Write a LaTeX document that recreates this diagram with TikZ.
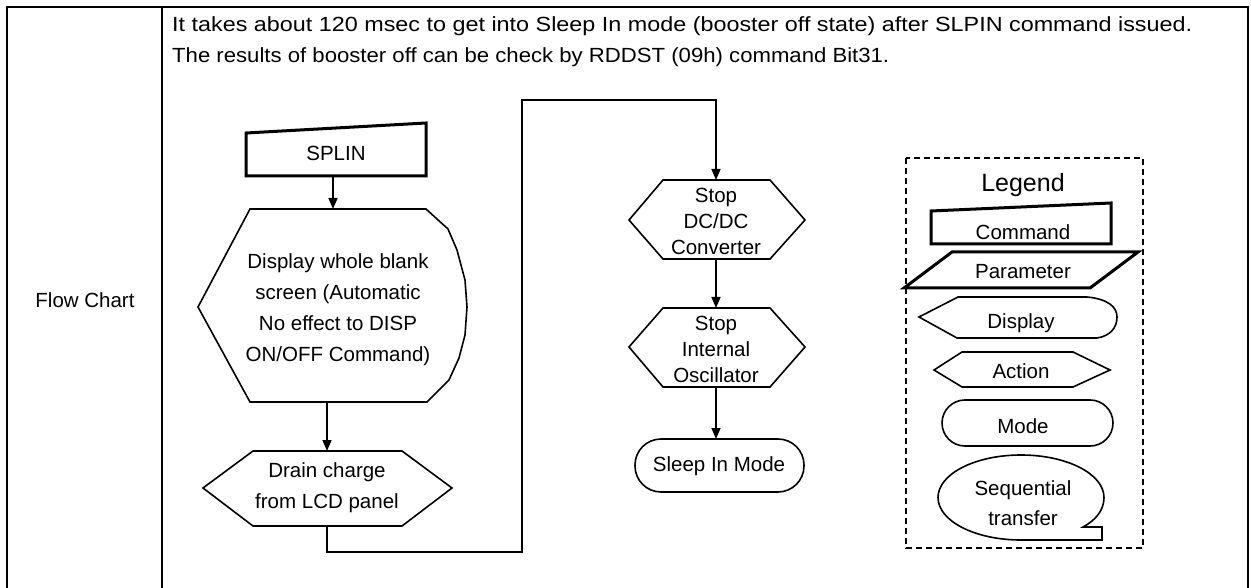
\documentclass[tikz,border=0pt]{standalone}
\usepackage{fontspec}
\setmainfont{Liberation Sans}
\usetikzlibrary{arrows.meta}
\tikzset{
  shp/.style={draw=black, line width=1.6pt, line join=miter},
  thk/.style={draw=black, line width=3pt, line join=miter},
  conn/.style={draw=black, line width=1.6pt},
  arr/.style={conn, -{Triangle[length=11pt,width=9pt]}},
  txt/.style={inner sep=0pt, align=center, font=\fontsize{20.5}{31}\selectfont},
  txtb/.style={inner sep=0pt, align=center, font=\fontsize{20.5}{26}\selectfont},
}
\begin{document}
\begin{tikzpicture}[x=1pt,y=-1pt]
\useasboundingbox (0,0) rectangle (1251,588);
% table frame
\draw[line width=2.7pt] (7,600) -- (7,7) -- (1248,7) -- (1248,600);
\draw[line width=1.8pt] (162,7) -- (162,600);
\node[txt] (fc) at (85,300) {Flow Chart};
% header text
\node[inner sep=0pt, anchor=base west] (h1) at (172,32) {\resizebox{1020pt}{\height}{\fontsize{20.5}{24}\selectfont It takes about 120 msec to get into Sleep In mode (booster off state) after SLPIN command issued.}};
\node[inner sep=0pt, anchor=base west] (h2) at (172,63) {\resizebox{717pt}{\height}{\fontsize{20.5}{24}\selectfont The results of booster off can be check by RDDST (09h) command Bit31.}};
% SPLIN
\draw[thk] (246,176) -- (426,176) -- (426,123) -- (246,133) -- cycle;
\node[txt] (splin) at (336,153) {SPLIN};
\coordinate (splin-s) at (333,176);
% Display
\draw[shp] (250,209) -- (426,209) -- (448,229) -- (457,250) -- (465,280) -- (467,307) -- (465,335) -- (459,358) -- (449,380) -- (427,402) -- (250,402) -- (198,307) -- cycle;
\node[txt] (disp) at (338,310) {Display whole blank\\screen (Automatic\\No effect to DISP\\ON/OFF Command)};
\coordinate (disp-n) at (333,209);
\coordinate (disp-s) at (327,402);
% Drain
\draw[shp] (253,451) -- (402,451) -- (452,488) -- (402,526) -- (253,526) -- (203,488) -- cycle;
\node[txt] (drain) at (327,488) {Drain charge\\from LCD panel};
\coordinate (drain-n) at (327,451);
\coordinate (drain-s) at (327,526);
% Stop DC/DC
\draw[shp] (663,180) -- (770,180) -- (805,220) -- (770,259) -- (663,259) -- (629,220) -- cycle;
\node[txtb] (dcdc) at (716,221) {Stop\\DC/DC\\Converter};
\coordinate (dcdc-n) at (716,180);
\coordinate (dcdc-s) at (716,259);
% Stop osc
\draw[shp] (663,308) -- (770,308) -- (805,347) -- (770,387) -- (663,387) -- (629,347) -- cycle;
\node[txtb] (osc) at (716,349) {Stop\\Internal\\Oscillator};
\coordinate (osc-n) at (716,308);
\coordinate (osc-s) at (716,387);
% Sleep in
\draw[shp, rounded corners=26pt] (635,439) rectangle (804,492);
\node[txt] (sleep) at (719,466) {Sleep In Mode};
\coordinate (sleep-n) at (716,439);
% connectors
\draw[arr] (splin-s) -- (disp-n);
\draw[arr] (disp-s) -- (drain-n);
\draw[arr] (drain-s) -- (327,552) -- (522,552) -- (522,100) -- (716,100) -- (dcdc-n);
\draw[arr] (dcdc-s) -- (osc-n);
\draw[arr] (osc-s) -- (sleep-n);
% Legend
\draw[line width=1.5pt, dash pattern=on 6pt off 4pt] (906,158) rectangle (1143,548);
\node[inner sep=0pt, font=\fontsize{25}{30}\selectfont] (leg) at (1023,185) {Legend};
\draw[thk] (931,244) -- (1111,244) -- (1111,203) -- (931,211) -- cycle;
\node[txt] (lcmd) at (1023,232) {Command};
\draw[thk] (952,252) -- (1138,252) -- (1090,288) -- (904,288) -- cycle;
\node[txt] (lpar) at (1023,272) {Parameter};
\draw[shp] (958,297) -- (1087,297) .. controls (1108,299) and (1117,307) .. (1117,317) .. controls (1117,328) and (1110,336) .. (1097,338) -- (957,338) -- (919,317) -- cycle;
\node[txt] (ldisp) at (1021,323) {Display};
\draw[shp] (962,352) -- (1073,352) -- (1110,370) -- (1073,387) -- (962,387) -- (934,370) -- cycle;
\node[txt] (lact) at (1021,371) {Action};
\draw[shp, rounded corners=23pt] (942,400) rectangle (1113,446);
\node[txt] (lmode) at (1023,426) {Mode};
\draw[shp] (1102,540) -- (1021,540) .. controls (975,540) and (938,521) .. (938,497.5) .. controls (938,474) and (975,455) .. (1021,455) .. controls (1067,455) and (1104,474) .. (1104,497.5) .. controls (1104,510) and (1096,520) .. (1083,527) -- (1102,527) -- cycle;
\node[txt, font=\fontsize{20.5}{30}\selectfont] (lseq) at (1023,503) {Sequential\\transfer};
\end{tikzpicture}
\end{document}
